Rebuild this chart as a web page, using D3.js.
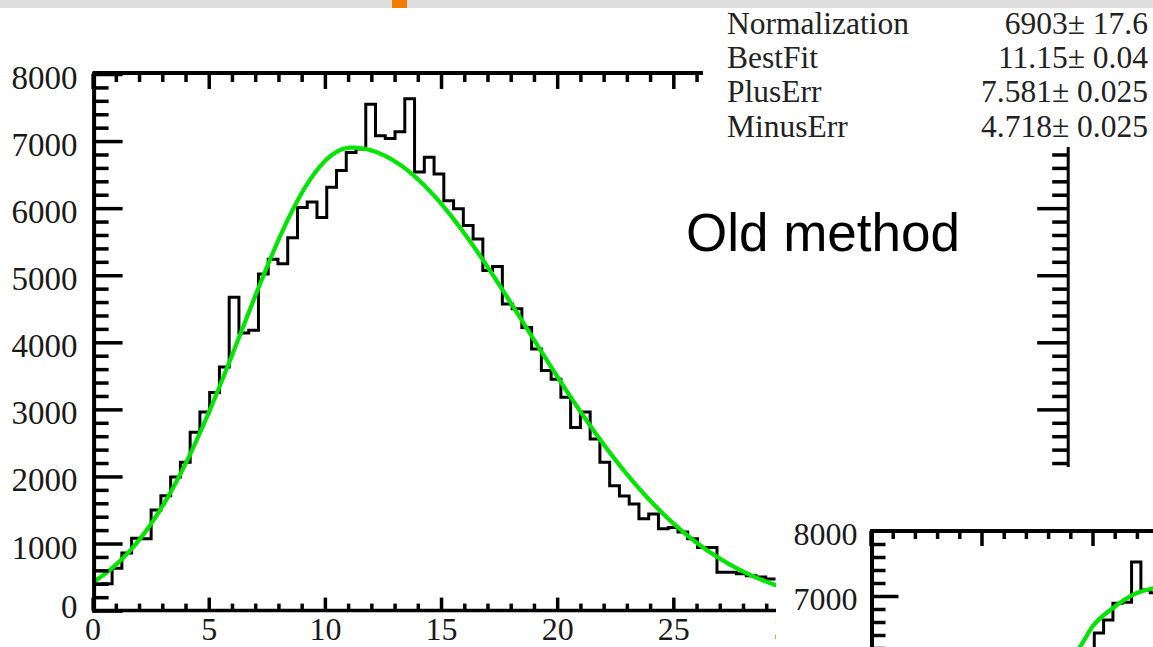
<!DOCTYPE html>
<html>
<head>
<meta charset="utf-8">
<script src="https://cdn.jsdelivr.net/npm/d3@7"></script>
<style>
  html, body { margin: 0; padding: 0; background: #fff; }
  svg { display: block; }
</style>
</head>
<body>
<svg id="c" width="1153" height="647"></svg>
<script>
// ---------- data ----------
// Histogram binning: 100 bins on [0, 42]
const binWidth = 0.42;
// Bin contents of the "old method" histogram (first 70 bins)
const oldCounts = [
  395, 400, 630, 860, 1080, 1070, 1500, 1714, 1990, 2210,
  2660, 2960, 3250, 3630, 4670, 4140, 4180, 5020, 5240, 5170,
  5560, 6010, 6090, 5860, 6310, 6560, 6830, 6880, 7550, 7080,
  7040, 7140, 7630, 6540, 6760, 6510, 6110, 5990, 5740, 5540,
  5070, 5130, 4570, 4500, 4220, 3900, 3580, 3450, 3180, 2730,
  2960, 2560, 2210, 1860, 1710, 1590, 1370, 1440, 1220, 1240,
  1170, 1070, 940, 940, 570, 570, 550, 520, 500, 470
];
// Fit results (asymmetric Gaussian) shown in the stats box
const fitNames  = ["Normalization", "BestFit", "PlusErr", "MinusErr"];
const fitValues = [6903, 11.15, 7.581, 4.718];
const fitErrors = ["17.6", "0.04", "0.025", "0.025"];

const xMajorTicks = [0, 5, 10, 15, 20, 25, 30, 35, 40];
const yMajorTicks = [0, 1000, 2000, 3000, 4000, 5000, 6000, 7000, 8000];

// Second histogram (lower right), visible bins only
const insetFirstBin = 23;
const insetCounts = [6150, 6430, 6630, 6890, 6905, 7523, 7092, 7050];
const insetFitX = [9.2, 9.44, 10.0, 10.9, 11.8, 12.75];
const insetFitY = [6120, 6220, 6530, 6810, 7015, 7118];
const insetYTicks = [7000, 8000];

const titleText = "Old method";

// ---------- drawing ----------
const svg = d3.select("#c");
const serif = "'Liberation Serif', 'Times New Roman', Times, serif";
const sans = "'Liberation Sans', Arial, Helvetica, sans-serif";

// top strip
svg.append("rect").attr("x", 0).attr("y", 0).attr("width", 1153).attr("height", 8).attr("fill", "#dedede");
svg.append("rect").attr("x", 392).attr("y", 0).attr("width", 15).attr("height", 8).attr("fill", "#f47b00");

// main plot scales
const x = d3.scaleLinear().domain([0, 42]).range([92.6, 1068.2]);
const y = d3.scaleLinear().domain([0, 8000]).range([610.6, 74]);

svg.append("clipPath").attr("id", "mainClip")
  .append("rect")
  .attr("x", x(0)).attr("y", y(8000))
  .attr("width", x(42) - x(0)).attr("height", y(0) - y(8000));

const stepLine = (sx, sy) => d3.line().x(d => sx(d[0])).y(d => sy(d[1])).curve(d3.curveStepAfter);

// histogram
const histPts = oldCounts.map((c, i) => [i * binWidth, c]);
histPts.push([oldCounts.length * binWidth, oldCounts[oldCounts.length - 1]]);
const plot = svg.append("g").attr("clip-path", "url(#mainClip)");
plot.append("path").datum(histPts)
  .attr("d", stepLine(x, y))
  .attr("fill", "none").attr("stroke", "#000").attr("stroke-width", 3)
  .attr("stroke-linejoin", "miter");

// fit curve from the stated parameters
const [fN, fMu, fPlus, fMinus] = fitValues;
const fitFn = v => {
  const s = v < fMu ? fMinus : fPlus;
  return fN * Math.exp(-0.5 * Math.pow((v - fMu) / s, 2));
};
const fitPts = d3.range(0, 42.0001, 0.05).map(v => [v, fitFn(v)]);
plot.append("path").datum(fitPts)
  .attr("d", d3.line().x(d => x(d[0])).y(d => y(d[1])))
  .attr("fill", "none").attr("stroke", "#00e600").attr("stroke-width", 4.2)
  .attr("stroke-linejoin", "round");

// axes helper
function styleAxis(g, fontSize, font) {
  g.select(".domain").remove();
  g.attr("font-size", fontSize).attr("font-family", font);
  g.selectAll("line").attr("stroke", "#000").attr("stroke-width", 3.5);
  g.selectAll("text").attr("fill", "#1a1a1a");
  return g;
}
const notIn = arr => v => !arr.some(a => Math.abs(a - v) < 1e-6);
const xMinor = d3.range(0, 42.001, 1).filter(notIn(xMajorTicks));
const yMinor = d3.range(0, 8000.1, 200).filter(notIn(yMajorTicks));

// bottom axis
const gxb = styleAxis(svg.append("g").attr("transform", `translate(0,${y(0)})`)
  .call(d3.axisBottom(x).tickValues(xMajorTicks).tickSize(-13).tickPadding(6).tickFormat(d3.format("d"))), 32, serif);
gxb.selectAll("text").attr("dy", "0.72em");
styleAxis(svg.append("g").attr("transform", `translate(0,${y(0)})`)
  .call(d3.axisBottom(x).tickValues(xMinor).tickSize(-7).tickFormat("")), 32, serif);
// top axis
styleAxis(svg.append("g").attr("transform", `translate(0,${y(8000)})`)
  .call(d3.axisTop(x).tickValues(xMajorTicks).tickSize(-15).tickFormat("")), 33, serif);
styleAxis(svg.append("g").attr("transform", `translate(0,${y(8000)})`)
  .call(d3.axisTop(x).tickValues(xMinor).tickSize(-8).tickFormat("")), 33, serif);
// left axis
const gy = styleAxis(svg.append("g").attr("transform", `translate(${x(0)},0)`)
  .call(d3.axisLeft(y).tickValues(yMajorTicks).tickSize(-30).tickPadding(15).tickFormat(d3.format("d"))), 33, serif);
gy.selectAll("text").attr("dy", d => d === 0 ? "0.22em" : "0.44em");
styleAxis(svg.append("g").attr("transform", `translate(${x(0)},0)`)
  .call(d3.axisLeft(y).tickValues(yMinor).tickSize(-16).tickFormat("")), 33, serif);
// right axis
styleAxis(svg.append("g").attr("transform", `translate(${x(42)},0)`)
  .call(d3.axisRight(y).tickValues(yMajorTicks).tickSize(-31).tickFormat("")), 33, serif);
styleAxis(svg.append("g").attr("transform", `translate(${x(42)},0)`)
  .call(d3.axisRight(y).tickValues(yMinor).tickSize(-16).tickFormat("")), 33, serif);

// frame
const frame = svg.append("g").attr("stroke", "#000").attr("fill", "none");
frame.append("line").attr("x1", x(0) + 1.5).attr("x2", x(0) + 1.5).attr("y1", y(8000) - 2).attr("y2", y(0) + 2).attr("stroke-width", 4);
frame.append("line").attr("x1", x(0)).attr("x2", x(42)).attr("y1", y(0)).attr("y2", y(0)).attr("stroke-width", 3.5);
frame.append("line").attr("x1", x(0)).attr("x2", x(42)).attr("y1", y(8000) - 1).attr("y2", y(8000) - 1).attr("stroke-width", 4);
frame.append("line").attr("x1", x(42)).attr("x2", x(42)).attr("y1", y(8000)).attr("y2", y(0)).attr("stroke-width", 3);

// overlapping panels
svg.append("rect").attr("x", 703).attr("y", 8).attr("width", 450).attr("height", 139).attr("fill", "#fff");
svg.append("rect").attr("x", 776).attr("y", 147).attr("width", 260).attr("height", 500).attr("fill", "#fff");
svg.append("rect").attr("x", 776).attr("y", 467).attr("width", 377).attr("height", 180).attr("fill", "#fff");

// stats box
const stats = svg.append("g").attr("font-family", serif).attr("font-size", 31.5).attr("fill", "#222");
const statBase = [34, 68, 102, 136.5];
fitNames.forEach((n, i) => {
  stats.append("text").attr("x", 727).attr("y", statBase[i]).text(n);
  stats.append("text").attr("x", 1148).attr("y", statBase[i]).attr("text-anchor", "end")
    .text(`${fitValues[i]}\u00b1 ${fitErrors[i]}`);
});

// ---------- lower-right histogram ----------
const xi = d3.scaleLinear().domain([0, 42]).range([870.5, 870.5 + 42 * 22.2]);
const yi = d3.scaleLinear().domain([0, 8000]).range([1051, 531]);
svg.append("clipPath").attr("id", "insetClip")
  .append("rect").attr("x", xi(0)).attr("y", yi(8000)).attr("width", 1153 - xi(0)).attr("height", 647 - yi(8000));
const inset = svg.append("g").attr("clip-path", "url(#insetClip)");
const insetPts = insetCounts.map((c, i) => [(insetFirstBin + i) * binWidth, c]);
insetPts.push([(insetFirstBin + insetCounts.length) * binWidth, insetCounts[insetCounts.length - 1]]);
inset.append("path").datum(insetPts)
  .attr("d", stepLine(xi, yi))
  .attr("fill", "none").attr("stroke", "#000").attr("stroke-width", 3);
inset.append("path").datum(insetFitX.map((v, i) => [v, insetFitY[i]]))
  .attr("d", d3.line().x(d => xi(d[0])).y(d => yi(d[1])).curve(d3.curveMonotoneX))
  .attr("fill", "none").attr("stroke", "#00e600").attr("stroke-width", 4.2);

const iMinorY = d3.range(5000, 8000.1, 200).filter(notIn(insetYTicks));
const gyi = styleAxis(svg.append("g").attr("transform", `translate(${xi(0)},0)`)
  .call(d3.axisLeft(yi).tickValues(insetYTicks).tickSize(-28).tickPadding(13).tickFormat(d3.format("d"))), 32, serif);
gyi.selectAll("text").attr("dy", "0.42em");
gyi.selectAll(".tick").filter(d => d === 8000).select("line").remove();
styleAxis(svg.append("g").attr("transform", `translate(${xi(0)},0)`)
  .call(d3.axisLeft(yi).tickValues(iMinorY).tickSize(-15).tickFormat("")), 32, serif);
styleAxis(svg.append("g").attr("transform", `translate(0,${yi(8000)})`)
  .call(d3.axisTop(xi).tickValues(xMajorTicks).tickSize(-15).tickFormat("")), 32, serif);
styleAxis(svg.append("g").attr("transform", `translate(0,${yi(8000)})`)
  .call(d3.axisTop(xi).tickValues(xMinor).tickSize(-8).tickFormat("")), 32, serif);
const iframe = svg.append("g").attr("stroke", "#000").attr("fill", "none");
iframe.append("line").attr("x1", xi(0) + 1.5).attr("x2", xi(0) + 1.5).attr("y1", yi(8000) - 2).attr("y2", 647).attr("stroke-width", 4);
iframe.append("line").attr("x1", xi(0)).attr("x2", 1153).attr("y1", yi(8000)).attr("y2", yi(8000)).attr("stroke-width", 4);

// label
svg.append("text").attr("x", 686).attr("y", 251)
  .attr("font-family", sans).attr("font-size", 53).attr("fill", "#000")
  .text(titleText);
</script>
</body>
</html>
